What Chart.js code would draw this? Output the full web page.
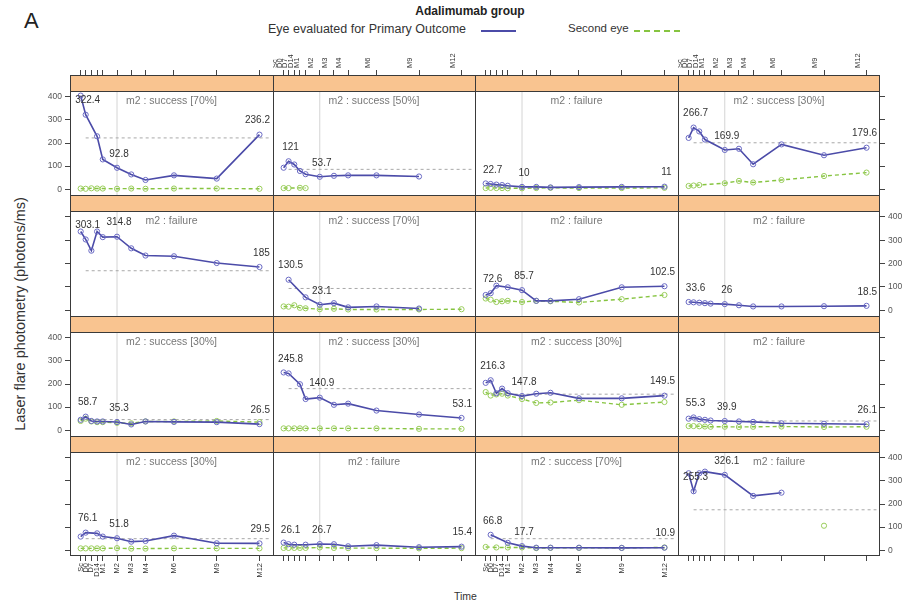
<!DOCTYPE html>
<html>
<head>
<meta charset="utf-8">
<script src="https://cdn.jsdelivr.net/npm/chart.js@4.4.1/dist/chart.umd.min.js"></script>
<style>
  body { margin: 0; background: #fff; font-family: "Liberation Sans", Arial, sans-serif; }
  #wrap { position: relative; width: 909px; height: 604px; overflow: hidden; }
  #wrap canvas { position: absolute; }
  #letter { position: absolute; left: 24px; top: 8px; font-size: 22px; color: #222; }
  #title { position: absolute; left: 370px; width: 200px; top: 4px; text-align: center; font-size: 12px; font-weight: bold; color: #222; }
  .leg { position: absolute; top: 22px; font-size: 12.5px; color: #333; }
  .legline { position: absolute; top: 30px; height: 0; }
  #ylab { position: absolute; left: -135px; top: 306px; width: 310px; text-align: center; font-size: 14.5px; color: #333; transform: rotate(-90deg); }
  #xlab { position: absolute; left: 454px; top: 590px; font-size: 10.5px; color: #333; }
</style>
</head>
<body>
<div id="wrap">
  <div id="letter">A</div>
  <div id="title">Adalimumab group</div>
  <div class="leg" style="left:268px">Eye evaluated for Primary Outcome</div>
  <div class="legline" style="left:481px;width:35px;border-top:2px solid #4b4ba8"></div>
  <div class="leg" style="left:568px;font-size:11.5px">Second eye</div>
  <div class="legline" style="left:634px;width:46px;border-top:2px dashed #86c440"></div>
  <div id="ylab">Laser flare photometry (photons/ms)</div>
  <div id="xlab">Time</div>
</div>
<script>
// visit times (months, as placed on the lattice x axis)
const timeLabels = ["Sc", "D0", "D7", "D14", "M1", "M2", "M3", "M4", "M6", "M9", "M12"];
const timePos = [-0.55, -0.2, 0.2, 0.6, 1, 2, 3, 4, 6, 9, 12];
const refTime = 2;
const yTicks = [0, 100, 200, 300, 400];
const labelAt = [1, 5, 10]; // D0, M2, M12

const panelTitles = [
  "m2 : success [70%]", "m2 : success [50%]", "m2 : failure", "m2 : success [30%]",
  "m2 : failure", "m2 : success [70%]", "m2 : failure", "m2 : failure",
  "m2 : success [30%]", "m2 : success [30%]", "m2 : success [30%]", "m2 : failure",
  "m2 : success [30%]", "m2 : failure", "m2 : success [70%]", "m2 : failure"
];

// eye evaluated for primary outcome
const primaryEye = [
  [405, 322.4, null, 229, 129, 92.8, 64, 40, 60, 46, 236.2],
  [93, 121, 107, 79, 65, 53.7, 58, 60, 60, 55, null],
  [25, 22.7, 20, 18, 15, 10, 10, 8, 9, 10, 11],
  [222, 266.7, 250, 215, null, 169.9, 175, 108, 194, 147, 179.6],
  [337, 303.1, 255, 337, 313, 314.8, 265, 234, 231, 202, 185],
  [null, 130.5, null, null, 55, 23.1, 30, 12, 16, 7, null],
  [65, 72.6, 105, null, 98, 85.7, 40, 40, 47, 98, 102.5],
  [35, 33.6, 32, 30, 28, 26, 21, 16, 16, 17, 18.5],
  [45, 58.7, 40, 38, 38, 35.3, 25, 38, 36, 35, 26.5],
  [250, 245.8, null, 199, 135, 140.9, 110, 115, 85, 68, 53.1],
  [205, 216.3, 160, 180, 160, 147.8, 158, 162, 138, 138, 149.5],
  [50, 55.3, 48, 45, 42, 39.9, 38, 36, 30, 28, 26.1],
  [59, 76.1, null, 73, 59, 51.8, 37, 40, 63, 30, 29.5],
  [33, 26.1, 24, null, 24, 26.7, 26, 17, 22, 13, 15.4],
  [null, 66.8, null, null, 32, 17.7, 11, 11, 11, 10, 10.9],
  [333, 255.3, 333, 340, null, 326.1, null, 235, 249, null, null]
];

// second eye
const secondEye = [
  [3, 2, 4, 3, 3, 2, 3, 2, 3, 3, 2],
  [5, 5, null, 6, 5, null, null, null, null, null, null],
  [5, 6, 5, 5, 4, 4, 5, 6, 5, 5, 6],
  [14, 16, 18, null, null, 26, 36, 29, 40, 57, 72],
  [null, null, null, null, null, null, null, null, null, null, null],
  [16, 15, 21, 10, 8, 4, 6, 3, 3, 3, 4],
  [50, 45, 35, 38, 40, 35, 40, 38, 33, 47, 65],
  [null, null, null, null, null, null, null, null, null, null, null],
  [40, 50, 38, 35, 35, 32, 30, 38, 38, 40, 35],
  [8, 8, 8, 8, 8, 8, 8, 8, 8, 6, 6],
  [165, 150, 155, 158, 150, 135, 118, 120, 130, 110, 122],
  [18, 18, 17, 16, 15, 15, 14, 15, 16, 14, 15],
  [8, 8, 8, 8, 8, 9, 7, 7, 8, 8, 8],
  [10, 10, 10, 10, 10, 12, 10, 9, 9, 8, 9],
  [14, null, 12, null, 12, 12, 9, 10, 10, 10, 12],
  [null, null, null, null, null, null, null, null, null, 106, null]
];

// horizontal reference level per panel
const thresholds = [222, 86, null, 201, 169, 93, null, null, 46, 180, 156, 40, 50, null, 50, 175];

const BLUE = "#4b4ba8", GREEN = "#86c440";
const LEFT = 70, RIGHT = 880, TOP = 75, BOTTOM = 556;
const STRIP = 16, AX = 32;
const Y_MIN = -25, Y_TOP = 425;
const X_MIN = -1.3, X_MAX = 12.95, X_END = 12.7;

Chart.defaults.font.family = '"Liberation Sans", Arial, sans-serif';

const colEdge = (c) => Math.round(LEFT + (c * (RIGHT - LEFT)) / 4);
const rowEdge = (r) => Math.round(TOP + (r * (BOTTOM - TOP)) / 4);

// keep every plot area exactly the size of its lattice cell
function fixBox(s, horizontal) {
  s.paddingLeft = s.paddingRight = s.paddingTop = s.paddingBottom = 0;
  if (!s.options.display) {
    s.width = horizontal ? s.width : 0;
    s.height = horizontal ? 0 : s.height;
    return;
  }
  if (horizontal) s.height = AX;
  else s.width = AX;
}

const decor = {
  id: "decor",
  afterDatasetsDraw(chart) {
    const { ctx, chartArea: a, scales } = chart;
    const o = chart.options.plugins.decor;
    const py = Math.round(scales.y.getPixelForValue(Y_TOP));
    ctx.save();
    ctx.fillStyle = "#f9c490";
    ctx.fillRect(a.left, a.top, a.right - a.left, py - a.top);
    ctx.strokeStyle = "#3a3a3a";
    ctx.lineWidth = 1;
    ctx.beginPath();
    ctx.moveTo(a.left, a.top + 0.5); ctx.lineTo(a.right, a.top + 0.5);
    ctx.moveTo(a.left, py + 0.5); ctx.lineTo(a.right, py + 0.5);
    ctx.moveTo(a.left + 0.5, a.top); ctx.lineTo(a.left + 0.5, a.bottom);
    if (o.lastCol) { ctx.moveTo(a.right - 0.5, a.top); ctx.lineTo(a.right - 0.5, a.bottom); }
    if (o.lastRow) { ctx.moveTo(a.left, a.bottom - 0.5); ctx.lineTo(a.right, a.bottom - 0.5); }
    ctx.stroke();

    ctx.fillStyle = "#777";
    ctx.font = '10.5px "Liberation Sans", Arial, sans-serif';
    ctx.textAlign = "center";
    ctx.textBaseline = "middle";
    ctx.fillText(o.title, (a.left + a.right) / 2, py + 10);

    ctx.fillStyle = "#333";
    ctx.font = '10px "Liberation Sans", Arial, sans-serif';
    labelAt.forEach((k) => {
      const v = o.values[k];
      if (v === null) return;
      const txt = String(v);
      const w = ctx.measureText(txt).width;
      let px = scales.x.getPixelForValue(timePos[k]) + 2;
      px = Math.max(a.left + 3 + w / 2, Math.min(a.right - 3 - w / 2, px));
      ctx.fillText(txt, px, scales.y.getPixelForValue(v) - 14);
    });
    ctx.restore();
  },
};

const wrap = document.getElementById("wrap");

panelTitles.forEach((title, i) => {
  const r = Math.floor(i / 4), c = i % 4;
  const x0 = colEdge(c), x1 = colEdge(c + 1), y0 = rowEdge(r), y1 = rowEdge(r + 1);
  const padL = c === 0 ? AX : 0, padR = c === 3 ? AX : 0;
  const padT = r === 0 ? AX : 0, padB = r === 3 ? AX : 0;
  const canvas = document.createElement("canvas");
  canvas.width = x1 - x0 + padL + padR;
  canvas.height = y1 - y0 + padT + padB;
  canvas.style.left = x0 - padL + "px";
  canvas.style.top = y0 - padT + "px";
  wrap.appendChild(canvas);

  const panelH = y1 - y0 - STRIP;
  const yMax = Y_TOP + (STRIP * (Y_TOP - Y_MIN)) / panelH;
  const pts = (arr) => timePos.map((t, k) => ({ x: t, y: arr[k] }));
  const thr = thresholds[i];

  const xLabels = (r === 0 && (c === 1 || c === 3)) || (r === 3 && (c === 0 || c === 2));
  const yLabels = (c === 0 && (r === 0 || r === 2)) || (c === 3 && (r === 1 || r === 3));

  new Chart(canvas, {
    type: "line",
    data: {
      datasets: [
        {
          data: pts(primaryEye[i]),
          borderColor: BLUE,
          borderWidth: 1.6,
          pointRadius: 2.6,
          pointBorderColor: "#6a6ac4",
          pointBackgroundColor: "rgba(255,255,255,0)",
          pointBorderWidth: 1,
          spanGaps: true,
          tension: 0,
        },
        {
          data: pts(secondEye[i]),
          borderColor: GREEN,
          borderWidth: 1.4,
          borderDash: [4, 3],
          pointRadius: 2.6,
          pointBorderColor: "#9acd5c",
          pointBackgroundColor: "rgba(255,255,255,0)",
          pointBorderWidth: 1,
          spanGaps: true,
          tension: 0,
        },
        {
          data: thr === null ? [] : [{ x: timePos[1], y: thr }, { x: X_END, y: thr }],
          borderColor: "#a8a8a8",
          borderWidth: 1,
          borderDash: [3, 3],
          pointRadius: 0,
        },
        {
          data: [{ x: refTime, y: Y_MIN }, { x: refTime, y: Y_TOP }],
          borderColor: "#d4d4d4",
          borderWidth: 1,
          pointRadius: 0,
        },
      ],
    },
    options: {
      responsive: false,
      animation: false,
      events: [],
      layout: { padding: 0, autoPadding: false },
      plugins: {
        legend: { display: false },
        tooltip: { enabled: false },
        decor: { title, values: primaryEye[i], lastCol: c === 3, lastRow: r === 3 },
      },
      scales: {
        x: {
          type: "linear",
          min: X_MIN,
          max: X_MAX,
          display: r === 0 || r === 3,
          position: r === 0 ? "top" : "bottom",
          afterBuildTicks: (s) => { s.ticks = timePos.map((v) => ({ value: v })); },
          afterFit: (s) => fixBox(s, true),
          ticks: {
            autoSkip: false,
            minRotation: 90,
            maxRotation: 90,
            padding: 2,
            color: "#333",
            font: { size: 7.5 },
            callback: (v, k) => (xLabels ? timeLabels[k] : ""),
          },
          grid: { drawOnChartArea: false, drawTicks: true, tickLength: 5, color: "#444" },
          border: { display: false },
        },
        y: {
          type: "linear",
          min: Y_MIN,
          max: yMax,
          display: c === 0 || c === 3,
          position: c === 0 ? "left" : "right",
          afterBuildTicks: (s) => { s.ticks = yTicks.map((v) => ({ value: v })); },
          afterFit: (s) => fixBox(s, false),
          ticks: {
            padding: 3,
            color: "#555",
            font: { size: 8.5 },
            callback: (v) => (yLabels ? v : ""),
          },
          grid: { drawOnChartArea: false, drawTicks: true, tickLength: 5, color: "#444" },
          border: { display: false },
        },
      },
    },
    plugins: [decor],
  });
});
</script>
</body>
</html>
